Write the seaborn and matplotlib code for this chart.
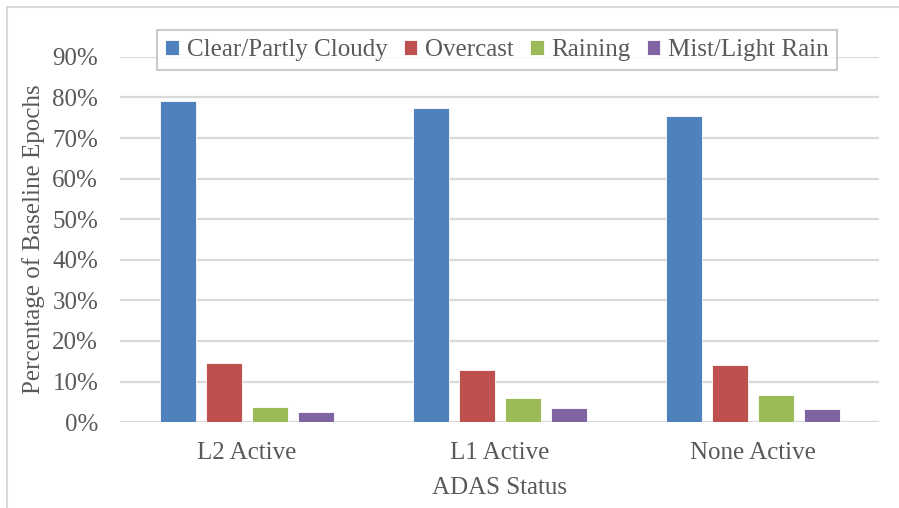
import numpy as np
import pandas as pd
import matplotlib
matplotlib.use("Agg")
import matplotlib.pyplot as plt
import seaborn as sns
from matplotlib.patches import Rectangle
from matplotlib.ticker import FuncFormatter

# values (fraction of baseline epochs)
statuses = ["L2 Active", "L1 Active", "None Active"]
weather = ["Clear/Partly Cloudy", "Overcast", "Raining", "Mist/Light Rain"]
clear_vals = [0.791, 0.773, 0.754]
overcast_vals = [0.145, 0.128, 0.141]
raining_vals = [0.037, 0.059, 0.068]
mist_vals = [0.025, 0.036, 0.032]
colors = ["#4f81bd", "#c0504d", "#9bbb59", "#8064a2"]

rows = []
for w, vals in zip(weather, [clear_vals, overcast_vals, raining_vals, mist_vals]):
    for s, v in zip(statuses, vals):
        rows.append({"ADAS Status": s, "Weather": w, "Share": v})
df = pd.DataFrame(rows)

sns.set_theme(style="white")
plt.rcParams["font.family"] = ["Liberation Serif", "DejaVu Serif"]
text_color = "#595959"
grid_color = "#d9d9d9"

fig = plt.figure(figsize=(8.99, 5.08), dpi=100)
ax = fig.add_axes([0.134, 0.169, 0.844, 0.719])

sns.barplot(data=df, x="ADAS Status", y="Share", hue="Weather",
            order=statuses, hue_order=weather, palette=colors, saturation=1,
            width=0.727, gap=0.22, errorbar=None, ax=ax,
            edgecolor="white", linewidth=0.6, zorder=3)

ax.set_ylim(0, 0.9)
ax.set_xlim(-0.5, 2.5)
ax.set_yticks(np.arange(0, 0.91, 0.1))
ax.yaxis.set_major_formatter(FuncFormatter(lambda v, p: f"{v * 100:.0f}%"))
ax.grid(axis="y", color=grid_color, linewidth=1.6, zorder=0)
ax.set_axisbelow(True)
for sp in ax.spines.values():
    sp.set_visible(False)
ax.tick_params(axis="both", length=0, labelsize=18, colors=text_color)
ax.tick_params(axis="y", pad=16)
ax.tick_params(axis="x", pad=14)
ax.set_xlabel("ADAS Status", fontsize=18, color=text_color)
ax.set_ylabel("Percentage of Baseline Epochs", fontsize=18, color=text_color)
ax.xaxis.set_label_coords(0.5, -0.15)
ax.yaxis.set_label_coords(-0.099, 0.5)

ax.get_legend().remove()
handles, labels = ax.get_legend_handles_labels()
leg = fig.legend(handles, labels, loc="center", bbox_to_anchor=(497 / 899, 1 - 50 / 508),
                 ncol=4, fontsize=18, frameon=True, fancybox=False,
                 handlelength=0.55, handleheight=0.55, handletextpad=0.3,
                 columnspacing=0.65, borderpad=0.35, labelcolor=text_color)
leg.get_frame().set_edgecolor("#bfbfbf")
leg.get_frame().set_linewidth(1.5)

# chart area border (only top/left edges visible in the crop)
fig.patches.append(Rectangle((7 / 899, -0.1), 1.2, 1 - 7 / 508 + 0.1,
                             transform=fig.transFigure, fill=False,
                             edgecolor=grid_color, linewidth=1.5))

fig.savefig("out.png", dpi=100)
